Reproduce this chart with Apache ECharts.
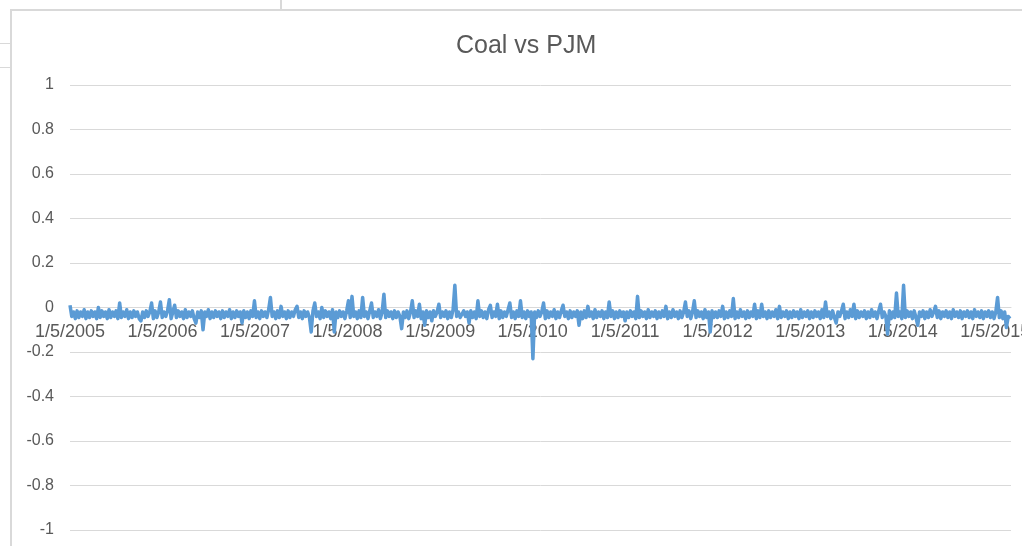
<!DOCTYPE html>
<html>
<head>
<meta charset="utf-8">
<script src="https://cdn.jsdelivr.net/npm/echarts@6/dist/echarts.min.js"></script>
<style>
html,body{margin:0;padding:0;background:#fff;}
#chart{width:1022px;height:546px;}
</style>
</head>
<body>
<div id="chart"></div>
<script>
// Weekly observations starting 1/5/2005 (one value every 7 days)
var startDate = Date.UTC(2005, 0, 5);
var stepDays = 7;
var endDay = 3714;
var labelYears = [2005, 2006, 2007, 2008, 2009, 2010, 2011, 2012, 2013, 2014, 2015];
var yTicks = { min: -1, max: 1, interval: 0.2 };
var titleText = 'Coal vs PJM';

var y2005 = [0.01,-0.04,-0.02,-0.05,-0.015,-0.045,-0.02,-0.04,-0.01,-0.05,
  -0.02,-0.045,-0.015,-0.04,-0.02,-0.05,0.0,-0.045,-0.015,-0.04,
  -0.02,-0.05,-0.01,-0.045,-0.02,-0.04,-0.015,-0.05,0.02,-0.045,
  -0.02,-0.04,-0.01,-0.05,-0.02,-0.045,-0.015,-0.04,-0.02,-0.05,
  -0.06,-0.02,-0.045,-0.015,-0.04,-0.02,0.02,-0.05,-0.015,-0.045,
  -0.02,0.025];
var y2006 = [-0.045,-0.02,-0.04,-0.015,0.035,-0.05,-0.02,0.01,-0.045,-0.015,
  -0.04,-0.02,-0.05,-0.01,-0.045,-0.02,-0.04,-0.015,-0.05,-0.07,
  -0.02,-0.045,-0.015,-0.10,-0.02,-0.04,-0.01,-0.05,-0.02,-0.045,
  -0.015,-0.04,-0.02,-0.05,-0.015,-0.045,-0.02,-0.04,-0.01,-0.05,
  -0.02,-0.045,-0.015,-0.04,-0.02,-0.07,-0.015,-0.045,-0.02,-0.05,
  -0.015,-0.04];
var y2007 = [0.03,-0.045,-0.02,-0.05,-0.015,-0.04,-0.02,-0.045,-0.01,0.045,
  -0.04,-0.02,-0.05,-0.015,-0.045,0.005,-0.04,-0.02,-0.05,-0.015,
  -0.045,-0.02,-0.04,-0.01,0.005,-0.045,-0.02,-0.05,-0.015,-0.04,
  -0.02,-0.045,-0.11,-0.015,0.02,-0.04,-0.02,-0.05,0.0,-0.045,
  -0.015,-0.04,-0.02,-0.05,-0.01,-0.11,-0.02,-0.045,-0.015,-0.04,
  -0.02,-0.05,-0.015];
var y2008 = [0.03,-0.045,0.05,-0.04,-0.02,-0.05,-0.015,-0.045,0.045,-0.04,
  -0.02,-0.05,-0.015,0.02,-0.045,-0.02,-0.04,-0.01,-0.05,-0.02,
  0.06,-0.045,-0.015,-0.04,-0.02,-0.05,-0.015,-0.045,-0.02,-0.04,
  -0.095,-0.02,-0.045,-0.015,-0.05,-0.02,0.03,-0.045,-0.015,-0.04,
  0.015,-0.05,-0.02,-0.08,-0.015,-0.045,-0.02,-0.06,-0.015,-0.04,
  -0.02,0.015];
var y2009 = [-0.045,-0.02,-0.04,-0.015,-0.05,-0.02,-0.045,-0.01,0.10,-0.04,
  -0.02,-0.045,-0.05,-0.015,-0.04,-0.02,-0.07,-0.015,-0.045,-0.02,
  -0.05,0.03,-0.04,-0.015,-0.045,-0.02,-0.05,-0.01,0.01,-0.045,
  -0.02,-0.04,0.015,-0.05,-0.015,-0.045,-0.02,-0.04,-0.01,0.02,
  -0.045,-0.02,-0.05,-0.015,-0.04,0.03,-0.045,-0.02,-0.05,-0.015,
  -0.04,-0.02];
var y2010 = [-0.23,-0.02,-0.045,-0.015,-0.04,-0.02,0.02,-0.05,-0.015,-0.045,
  -0.02,-0.04,-0.01,-0.05,-0.02,-0.045,-0.015,0.01,-0.04,-0.02,
  -0.05,-0.015,-0.045,-0.02,-0.04,-0.015,-0.08,-0.02,-0.05,-0.015,
  -0.045,0.005,-0.04,-0.02,-0.05,-0.01,-0.045,-0.02,-0.04,-0.015,
  -0.05,-0.02,-0.045,0.025,-0.04,-0.015,-0.05,-0.02,-0.045,-0.015,
  -0.04,-0.02];
var y2011 = [-0.06,-0.02,-0.045,-0.015,-0.04,-0.02,-0.05,0.05,-0.045,-0.015,
  -0.04,-0.02,-0.05,-0.01,-0.045,-0.02,-0.04,-0.015,-0.05,-0.02,
  -0.045,-0.015,-0.04,0.005,-0.05,-0.02,-0.045,-0.01,-0.04,-0.02,
  -0.05,-0.015,-0.045,-0.02,0.025,-0.04,-0.015,-0.05,-0.02,0.03,
  -0.045,-0.015,-0.04,-0.02,-0.05,-0.01,-0.045,-0.02,-0.11,-0.015,
  -0.045,-0.02];
var y2012 = [-0.045,-0.015,-0.04,0.005,-0.05,-0.02,-0.045,-0.015,-0.04,0.04,
  -0.05,-0.02,-0.045,-0.01,-0.04,-0.02,-0.05,-0.015,-0.045,-0.02,
  -0.04,0.015,-0.05,-0.015,-0.045,0.015,-0.04,-0.02,-0.05,-0.015,
  -0.045,-0.02,-0.04,-0.01,-0.05,0.005,-0.045,-0.02,-0.04,-0.015,
  -0.05,-0.02,-0.045,-0.015,-0.04,-0.02,-0.05,-0.01,-0.045,-0.02,
  -0.04,-0.015];
var y2013 = [-0.05,-0.02,-0.045,-0.015,-0.04,-0.02,-0.05,-0.01,-0.045,0.025,
  -0.04,-0.02,-0.05,-0.015,-0.045,-0.07,-0.02,-0.04,-0.015,0.015,
  -0.05,-0.02,-0.045,-0.01,-0.04,0.015,-0.05,-0.015,-0.045,-0.02,
  -0.04,-0.015,-0.05,-0.02,-0.045,-0.01,-0.04,-0.02,-0.05,-0.015,
  0.015,-0.045,-0.02,-0.04,-0.12,-0.015,-0.05,-0.02,-0.045,0.065,
  -0.04,-0.02,-0.05];
var y2014 = [0.10,-0.045,-0.015,-0.04,-0.02,-0.05,-0.015,-0.045,-0.08,-0.02,
  -0.04,-0.015,-0.05,-0.02,-0.045,-0.01,-0.04,-0.02,0.005,-0.045,
  -0.015,-0.05,-0.02,-0.04,-0.015,-0.045,-0.02,-0.05,-0.01,-0.04,
  -0.02,-0.045,-0.015,-0.05,-0.02,-0.04,-0.015,-0.045,-0.02,-0.05,
  -0.01,-0.04,-0.02,-0.045,-0.015,-0.05,-0.02,-0.04,-0.015,-0.045,
  -0.02,-0.05];
var y2015 = [-0.02,0.045,-0.045,-0.015,-0.05,-0.02,-0.09,-0.04,-0.05];

var values = [].concat(y2005, y2006, y2007, y2008, y2009, y2010, y2011, y2012, y2013, y2014, y2015);
var seriesData = values.map(function (v, i) { return [i * stepDays, v]; });

// day offsets of 1/5 of each labelled year
var labelDays = labelYears.map(function (yr) {
  return Math.round((Date.UTC(yr, 0, 5) - startDate) / 86400000);
});

function dayLabel(d) {
  var t = new Date(startDate + Math.round(d) * 86400000);
  return (t.getUTCMonth() + 1) + '/' + t.getUTCDate() + '/' + t.getUTCFullYear();
}

var gridTop = 85, gridBottom = 16, chartHeight = 546;
var plotHeight = chartHeight - gridTop - gridBottom;

var chart = echarts.init(document.getElementById('chart'), null, { renderer: 'canvas' });
var FONT = '"Liberation Sans", Arial, sans-serif';
chart.setOption({
  animation: false,
  backgroundColor: '#ffffff',
  title: {
    text: titleText,
    left: 451,
    top: 29,
    textStyle: { color: '#595959', fontSize: 25, fontWeight: 'normal', fontFamily: FONT }
  },
  grid: { left: 70, right: 11, top: gridTop, bottom: gridBottom, containLabel: false, outerBoundsMode: 'none' },
  xAxis: {
    type: 'value',
    min: 0,
    max: endDay,
    position: 'bottom',
    offset: -plotHeight / 2,
    axisLine: { show: true, onZero: false, lineStyle: { color: '#d9d9d9', width: 1 } },
    axisTick: { show: false },
    splitLine: { show: false },
    axisLabel: {
      show: true, margin: 16, color: '#595959', fontSize: 18, fontFamily: FONT,
      customValues: labelDays, hideOverlap: false,
      formatter: function (v) { return dayLabel(v); }
    }
  },
  yAxis: {
    type: 'value',
    min: yTicks.min,
    max: yTicks.max,
    interval: yTicks.interval,
    axisLine: { show: false, onZero: false },
    axisTick: { show: false },
    splitLine: { show: true, lineStyle: { color: '#d9d9d9', width: 1 } },
    axisLabel: { margin: 16, color: '#595959', fontSize: 16, fontFamily: FONT }
  },
  series: [{
    type: 'line',
    data: seriesData,
    showSymbol: false,
    symbol: 'none',
    lineStyle: { color: '#5b9bd5', width: 3.5, join: 'round' },
    itemStyle: { color: '#5b9bd5' },
    z: 3
  }],
  graphic: [
    { type: 'rect', shape: { x: 11, y: 10, width: 1100, height: 600 }, style: { fill: null, stroke: '#d9d9d9', lineWidth: 2 }, silent: true, z: 0 },
    { type: 'line', shape: { x1: 281, y1: 0, x2: 281, y2: 10 }, style: { stroke: '#d9d9d9', lineWidth: 2 }, silent: true },
    { type: 'line', shape: { x1: 0, y1: 43.5, x2: 10, y2: 43.5 }, style: { stroke: '#d9d9d9', lineWidth: 1 }, silent: true },
    { type: 'line', shape: { x1: 0, y1: 67.5, x2: 10, y2: 67.5 }, style: { stroke: '#d9d9d9', lineWidth: 1 }, silent: true }
  ]
});
</script>
</body>
</html>
